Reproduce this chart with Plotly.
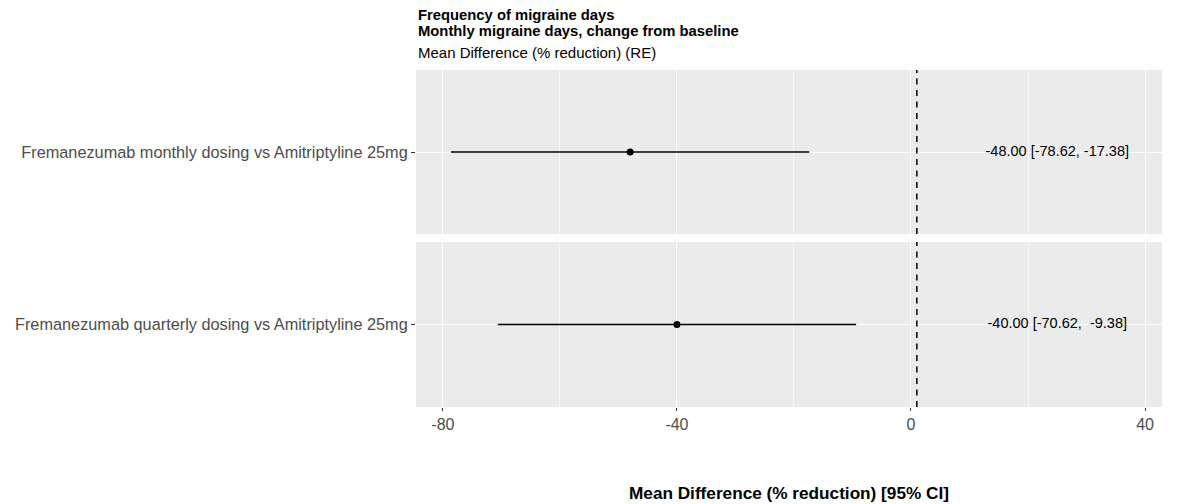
import plotly.graph_objects as go

# Comparisons, one per facet row (top to bottom)
comparisons = [
    "Fremanezumab monthly dosing vs Amitriptyline 25mg",
    "Fremanezumab quarterly dosing vs Amitriptyline 25mg",
]
mean_diff = [-48.00, -40.00]
ci_low = [-78.62, -70.62]
ci_high = [-17.38, -9.38]

x_ticks = [-80, -40, 0, 40]
null_line = 1
label_x = 25

FONT = "Liberation Sans, Arial, sans-serif"
W, H = 1177, 504
M_L, M_R, M_T, M_B = 416, 15, 70, 97
plot_h = H - M_T - M_B


def py(pix):
    """Convert a pixel row to paper y coordinate."""
    return (H - M_B - pix) / plot_h


fig = go.Figure()

axes = [("x2", "y"), ("x", "y2")]
for i, (xa, ya) in enumerate(axes):
    cat = comparisons[i]
    fig.add_trace(go.Scatter(
        x=[mean_diff[i]], y=[cat], xaxis=xa, yaxis=ya,
        mode="markers",
        marker=dict(color="black", size=7),
        error_x=dict(type="data", symmetric=False,
                     array=[ci_high[i] - mean_diff[i]],
                     arrayminus=[mean_diff[i] - ci_low[i]],
                     width=0, thickness=1.3, color="black"),
        showlegend=False, hoverinfo="skip",
    ))
    label = f"{mean_diff[i]:.2f} [{ci_low[i]:6.2f}, {ci_high[i]:6.2f}]".replace("[ ", "[")
    fig.add_trace(go.Scatter(
        x=[label_x], y=[cat], xaxis=xa, yaxis=ya,
        mode="text", text=[label],
        textfont=dict(family=FONT, size=14.5, color="black"),
        textposition="middle center",
        showlegend=False, hoverinfo="skip",
    ))
    ydom = "y domain" if ya == "y" else "y2 domain"
    fig.add_shape(type="line", xref=xa, yref=ydom,
                  x0=null_line, x1=null_line, y0=0, y1=1,
                  line=dict(color="black", width=1.5, dash="6px,5.5px"))

x_common = dict(
    range=[-84.6, 42.9],
    tickvals=x_ticks,
    ticktext=[str(v) for v in x_ticks],
    showgrid=True, gridcolor="white", gridwidth=1.1,
    minor=dict(dtick=20, tick0=0, showgrid=True, gridcolor="#F7F7F7", gridwidth=0.6),
    zeroline=False, showline=False,
    domain=[0, 1], automargin=False,
)
y_common = dict(
    type="category",
    range=[-0.6, 0.6],
    showgrid=True, gridcolor="white", gridwidth=1.1,
    zeroline=False, showline=False, automargin=False,
    ticks="outside", ticklen=4, tickwidth=1, tickcolor="#333333",
    tickfont=dict(family=FONT, size=16.3, color="#4D4D4D"),
)

fig.update_layout(
    width=W, height=H,
    margin=dict(l=M_L, r=M_R, t=M_T, b=M_B),
    paper_bgcolor="white", plot_bgcolor="#EBEBEB",
    font=dict(family=FONT),
    xaxis=dict(**x_common, anchor="y2",
               ticks="outside", ticklen=3, tickwidth=1, tickcolor="#333333",
               tickfont=dict(family=FONT, size=16, color="#4D4D4D")),
    xaxis2=dict(**x_common, anchor="y", matches="x", showticklabels=False, ticks=""),
    yaxis=dict(**y_common, domain=[py(234), 1], anchor="x2"),
    yaxis2=dict(**y_common, domain=[0, py(242)], anchor="x"),
    annotations=[
        dict(text="<b>Frequency of migraine days</b>", xref="paper", yref="paper",
             x=0, y=py(15), xanchor="left", yanchor="middle", showarrow=False,
             font=dict(family=FONT, size=14.8, color="black")),
        dict(text="<b>Monthly migraine days, change from baseline</b>", xref="paper", yref="paper",
             x=0, y=py(31), xanchor="left", yanchor="middle", showarrow=False,
             font=dict(family=FONT, size=14.8, color="black")),
        dict(text="Mean Difference (% reduction) (RE)", xref="paper", yref="paper",
             x=0, y=py(53), xanchor="left", yanchor="middle", showarrow=False,
             font=dict(family=FONT, size=15, color="black")),
        dict(text="<b>Mean Difference (% reduction) [95% CI]</b>", xref="paper", yref="paper",
             x=0.5, y=py(493), xanchor="center", yanchor="middle", showarrow=False,
             font=dict(family=FONT, size=17.2, color="black")),
    ],
)

fig.write_html("out.html")
